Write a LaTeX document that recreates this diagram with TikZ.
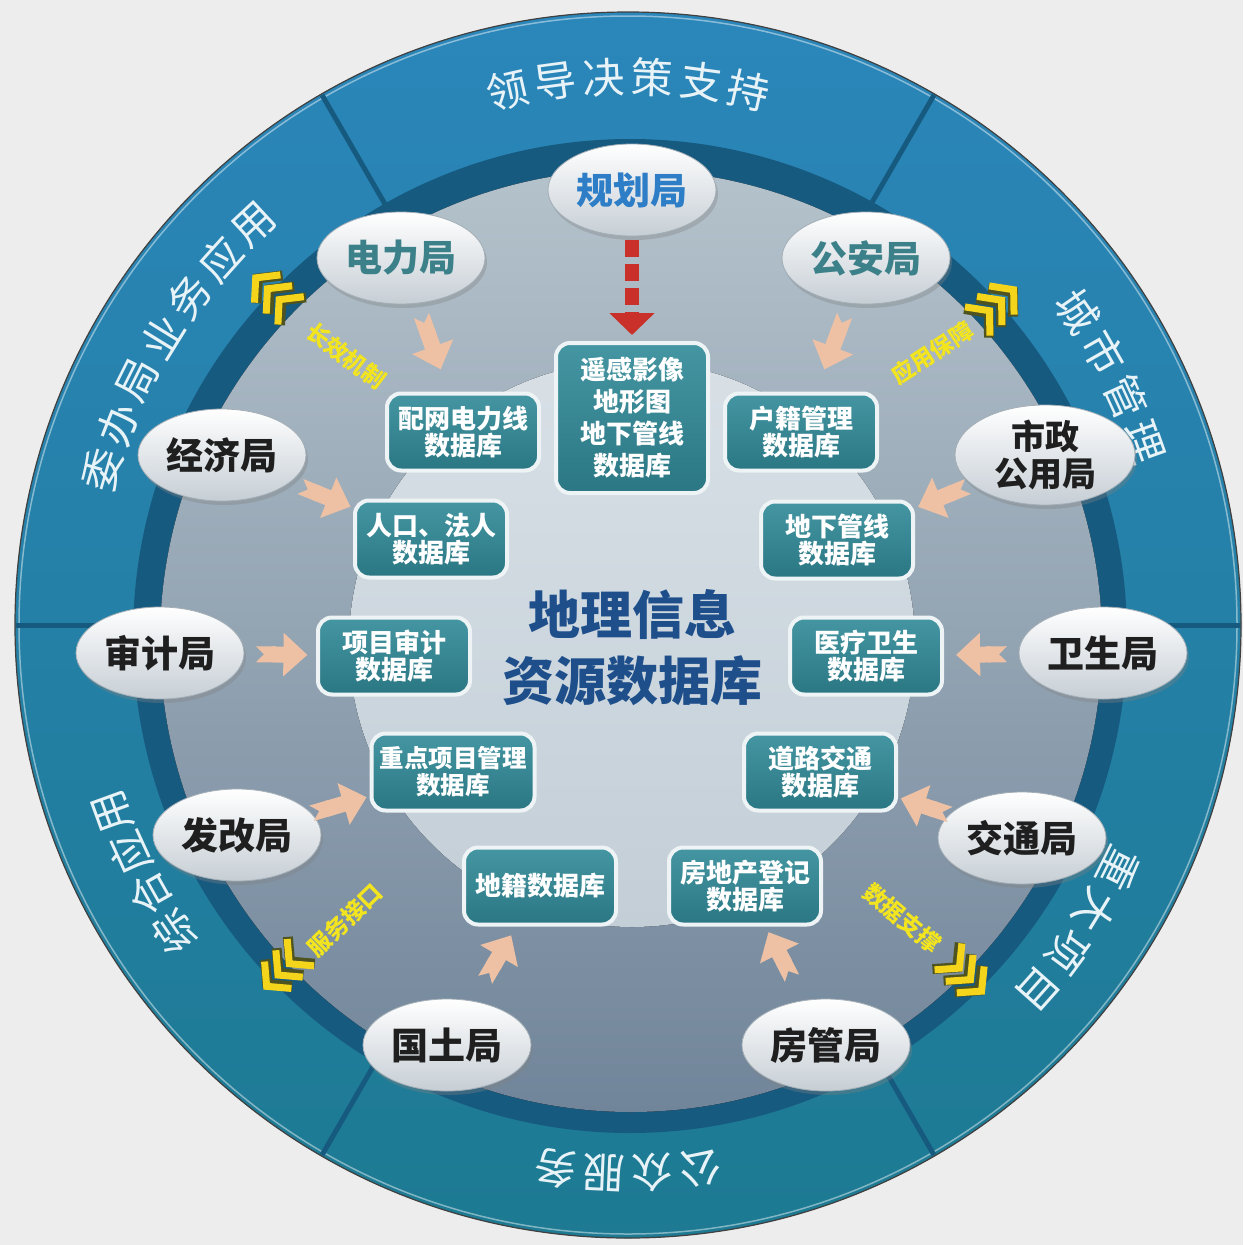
\documentclass[tikz,border=0pt]{standalone}
\usepackage{fontspec}
\newfontfamily\cjk{Noto Sans CJK SC}
\usetikzlibrary{shapes.geometric,calc,arrows.meta,shadows}
\definecolor{bgc}{HTML}{EDEDED}
\definecolor{ringtop}{HTML}{2B86BA}
\definecolor{ringbot}{HTML}{1D7A92}
\definecolor{bandc}{HTML}{175A80}
\definecolor{graytop}{HTML}{B4C2CB}
\definecolor{graybot}{HTML}{71859A}
\definecolor{lighttop}{HTML}{D8E0E6}
\definecolor{lightbot}{HTML}{C3CED7}
\definecolor{elbot}{HTML}{C6CED5}
\definecolor{eldraw}{HTML}{A3AEB6}
\definecolor{dbtop}{HTML}{4496A2}
\definecolor{dbbot}{HTML}{2B7784}
\definecolor{dbedge}{HTML}{EEF4F5}
\definecolor{peach}{HTML}{EFC1A4}
\definecolor{redarr}{HTML}{C9302A}
\definecolor{chevy}{HTML}{F4D51C}
\definecolor{chevd}{HTML}{4E5320}
\definecolor{yeltxt}{HTML}{F2E41E}
\definecolor{titleblue}{HTML}{1E4F8B}
\definecolor{planblue}{HTML}{2D7EC6}
\definecolor{tealtxt}{HTML}{3C8089}
\definecolor{darktxt}{HTML}{1F1F1F}
\definecolor{ringtxt}{HTML}{E8F3F8}
\definecolor{divc}{HTML}{175A80}
\newcommand\RingWord[5]{%
  \foreach \ch [count=\i] in {#5} {
    \pgfmathsetmacro\rwang{#2+(#3-1)/2*#4-(\i-1)*#4}
    \pgfmathsetmacro\rwrot{\rwang-90}
    \node[ringlabel, rotate=\rwrot] (#1\i) at ($(O)+(\rwang:548)$) {\ch};
  }}
\tikzset{chevrons/.pic={
  \foreach \o in {-16,0,16} {
    \draw[chevd, line width=10pt, line join=miter, line cap=butt] (\o-17,18) -- (\o-1,-1) -- (\o-17,-20);
    \draw[chevy, line width=7pt, line join=miter, line cap=butt] (\o-15,19) -- (\o+1,0) -- (\o-15,-19);
  }
}}
\begin{document}
\begin{tikzpicture}[x=1pt,y=1pt,
  office/.style={ellipse, minimum width=168pt, minimum height=92pt, inner sep=0pt,
    top color=white, bottom color=elbot, draw=eldraw, line width=0.8pt,
    drop shadow={opacity=0.35,shadow xshift=2pt,shadow yshift=-4pt},
    font=\cjk\bfseries\fontsize{37}{40}\selectfont, text=darktxt, align=center},
  dbbox/.style={rounded corners=14pt, minimum width=152pt, minimum height=77pt, inner sep=0pt,
    top color=dbtop, bottom color=dbbot, draw=dbedge, line width=4pt, text=white,
    font=\cjk\bfseries\fontsize{26}{27}\selectfont, align=center},
  feed/.style={draw=peach, line width=16pt, {Triangle Cap[reversed]}-{Triangle[length=24pt,width=42pt]}},
  ringlabel/.style={inner sep=0pt, text=ringtxt, font=\cjk\fontsize{42}{44}\selectfont},
  yel/.style={inner sep=0pt, text=yeltxt, font=\cjk\bfseries\fontsize{23}{25}\selectfont},
  title/.style={inner sep=0pt, text=titleblue, align=center, font=\cjk\bfseries\fontsize{52}{66}\selectfont}
]
\useasboundingbox (0,0) rectangle (1243,-1245);
\fill[bgc] (0,0) rectangle (1243,-1245);
\coordinate (O) at (628,-625);
% outer ring
\fill[top color=ringtop, bottom color=ringbot] (O) circle (613);
\draw[white, opacity=0.45, line width=1.5pt] (O) circle (609);
\draw[black!75, line width=1.2pt] (O) circle (613);
% dividers
\foreach \a in {0,60,120,180,240,300}
  \draw[divc, line width=5pt] ($(O)+(\a:480)$) -- ($(O)+(\a:612)$);
% dark band
\fill[bandc] (630,-636) circle (497);
% gray disk
\fill[top color=graytop, bottom color=graybot] (631,-641) circle (471);
% light inner disk
\fill[top color=lighttop, bottom color=lightbot] (632,-644) circle (283);
% ring texts
\RingWord{rt}{90}{6}{5.1}{领,导,决,策,支,持}
\RingWord{rl}{148.3}{7}{5.1}{委,办,局,业,务,应,用}
\RingWord{rr}{27.2}{4}{5.1}{城,市,管,理}
\RingWord{rd}{-34}{4}{5.1}{重,大,项,目}
\RingWord{rb}{270}{4}{5.1}{公,众,服,务}
\RingWord{rs}{207}{4}{4.7}{综,合,应,用}
% chevrons and yellow labels
\pic[rotate=137] at ($(O)+(137:492)$) {chevrons};
\pic[rotate=41] at ($(O)+(41:494)$) {chevrons};
\pic[rotate=225] at ($(O)+(225:494)$) {chevrons};
\pic[rotate=-46] at ($(O)+(-46:492)$) {chevrons};
\node[yel, rotate=-37] (y1) at (346,-356) {长效机制};
\node[yel, rotate=33] (y2) at (932,-353) {应用保障};
\node[yel, rotate=44] (y3) at (345,-920) {服务接口};
\node[yel, rotate=-40] (y4) at (902,-918) {数据支撑};
% database boxes
\node[dbbox, minimum height=150pt, font=\cjk\bfseries\fontsize{26}{32}\selectfont] (core) at (632,-418) {遥感影像\\地形图\\地下管线\\数据库};
\node[dbbox] (peiwang) at (463,-432) {配网电力线\\数据库};
\node[dbbox] (huji) at (801,-432) {户籍管理\\数据库};
\node[dbbox] (renkou) at (431,-539) {人口、法人\\数据库};
\node[dbbox] (dixia) at (837,-540) {地下管线\\数据库};
\node[dbbox] (xmsj) at (394,-656) {项目审计\\数据库};
\node[dbbox] (yiliao) at (866,-656) {医疗卫生\\数据库};
\node[dbbox, minimum width=163pt, font=\cjk\bfseries\fontsize{24.5}{27}\selectfont] (zhongdian) at (453,-772) {重点项目管理\\数据库};
\node[dbbox] (daolu) at (820,-772) {道路交通\\数据库};
\node[dbbox] (diji) at (540,-886) {地籍数据库};
\node[dbbox] (fdc) at (745,-886) {房地产登记\\数据库};
% center title
\node[title] (geo) at (632,-648) {地理信息\\资源数据库};
% offices
\node[office, text=planblue] (guihua) at (632,-190) {规划局};
\node[office, text=tealtxt] (dianli) at (401,-258) {电力局};
\node[office, text=tealtxt] (gongan) at (866,-258) {公安局};
\node[office] (jingji) at (222,-455) {经济局};
\node[office, minimum width=180pt, minimum height=100pt, font=\cjk\bfseries\fontsize{34}{37}\selectfont] (shizheng) at (1045,-455) {市政\\公用局};
\node[office] (shenji) at (160,-653) {审计局};
\node[office] (weisheng) at (1103,-653) {卫生局};
\node[office] (fagai) at (237,-835) {发改局};
\node[office] (jiaotong) at (1022,-838) {交通局};
\node[office] (guotu) at (447,-1045) {国土局};
\node[office] (fangguan) at (826,-1045) {房管局};
% arrows
\draw[redarr, line width=14pt, dash pattern=on 17pt off 7pt, -{Triangle[length=22pt,width=44pt]}, shorten <=4pt, shorten >=6pt] (guihua) -- (core);
\draw[feed] ($(dianli)!0.33!(peiwang)$) -- ($(dianli)!0.64!(peiwang)$);
\draw[feed] ($(gongan)!0.33!(huji)$) -- ($(gongan)!0.64!(huji)$);
\draw[feed] ($(jingji)!0.375!(renkou)$) -- ($(jingji)!0.615!(renkou)$);
\draw[feed] ($(shizheng)!0.37!(dixia)$) -- ($(shizheng)!0.61!(dixia)$);
\draw[feed] ($(shenji)!0.41!(xmsj)$) -- ($(shenji)!0.63!(xmsj)$);
\draw[feed] ($(weisheng)!0.405!(yiliao)$) -- ($(weisheng)!0.62!(yiliao)$);
\draw[feed] ($(fagai)!0.345!(zhongdian)$) -- ($(fagai)!0.6!(zhongdian)$);
\draw[feed] ($(jiaotong)!0.356!(daolu)$) -- ($(jiaotong)!0.6!(daolu)$);
\draw[feed] ($(guotu)!0.41!(diji)$) -- ($(guotu)!0.69!(diji)$);
\draw[feed] ($(fangguan)!0.42!(fdc)$) -- ($(fangguan)!0.71!(fdc)$);
\end{tikzpicture}
\end{document}
